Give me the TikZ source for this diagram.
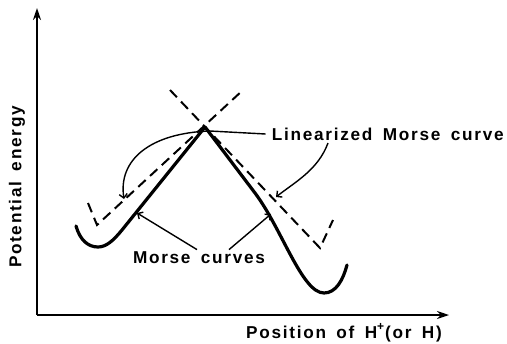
\documentclass[tikz,border=0pt]{standalone}
\usepackage{fontspec}
\setmainfont{Liberation Sans}[LetterSpace=10, WordSpace=1.6]
\usetikzlibrary{arrows.meta}
\begin{document}
\begin{tikzpicture}[x=0.5pt,y=-0.5pt,
  axis/.style={line width=1pt,-{Stealth[length=6pt,width=4pt]}},
  morse/.style={line width=1.6pt, line cap=round, line join=round},
  lin/.style={line width=1pt, dash pattern=on 5pt off 3pt},
  ptr/.style={line width=0.7pt, -{Straight Barb[length=2pt,width=4pt]}},
  lbl/.style={font=\bfseries\fontsize{8.6}{10}\selectfont, inner sep=0pt}]
\useasboundingbox (0,0) rectangle (507,343);
% axes
\coordinate (O) at (37,315);
\coordinate (ytop) at (37,8);
\coordinate (xend) at (449,315);
\draw[axis] (O) -- (ytop);
\draw[axis] (O) -- (xend);
% key points
\coordinate (peak) at (205,127);
\coordinate (lwall) at (76,226);
\coordinate (lmin) at (98,247);
\coordinate (llin) at (122,230);
\coordinate (rlin) at (255,193);
\coordinate (rmin) at (324,293);
\coordinate (rwall) at (347,265);
% Morse curves
\draw[morse] (lwall) .. controls (80,240) and (88,247) .. (lmin)
  .. controls (106,247) and (113,241) .. (llin) -- (peak);
\draw[morse] (peak) -- (rlin) .. controls (282,229) and (302,293) .. (rmin)
  .. controls (336,293) and (343,280) .. (rwall);
% linearized (dashed)
\coordinate (dl1) at (88,203);
\coordinate (dlv) at (97,225);
\coordinate (dl2) at (243,90);
\coordinate (dr1) at (170,90);
\coordinate (drv) at (320,248);
\coordinate (dr2) at (333,220);
\draw[lin] (dl1) -- (dlv) -- (dl2);
\draw[lin] (dr1) -- (drv) -- (dr2);
% labels
\node[lbl, anchor=east] (lin) at (504,134) {Linearized Morse curve};
\node[lbl] (mc) at (199,258) {Morse curves};
\node[lbl] (pos) at (344,333) {Position of H\textsuperscript{+}(or H)};
\node[lbl, rotate=90] (pe) at (17,187) {Potential energy};
% pointers
\coordinate (tl) at (124,199);
\coordinate (tr) at (276,197);
\coordinate (ml) at (137,213);
\coordinate (mr) at (271,214);
\draw[ptr] ([xshift=-3]lin.west) -- (210,131) .. controls (150,133) and (118,160) .. (tl);
\draw[ptr] (328,143) .. controls (318,170) and (295,182) .. (tr);
\draw[ptr] (mc.north) ++(-2,-2) -- (ml);
\draw[ptr] (mc.north) ++(30,-2) -- (mr);
\end{tikzpicture}
\end{document}
